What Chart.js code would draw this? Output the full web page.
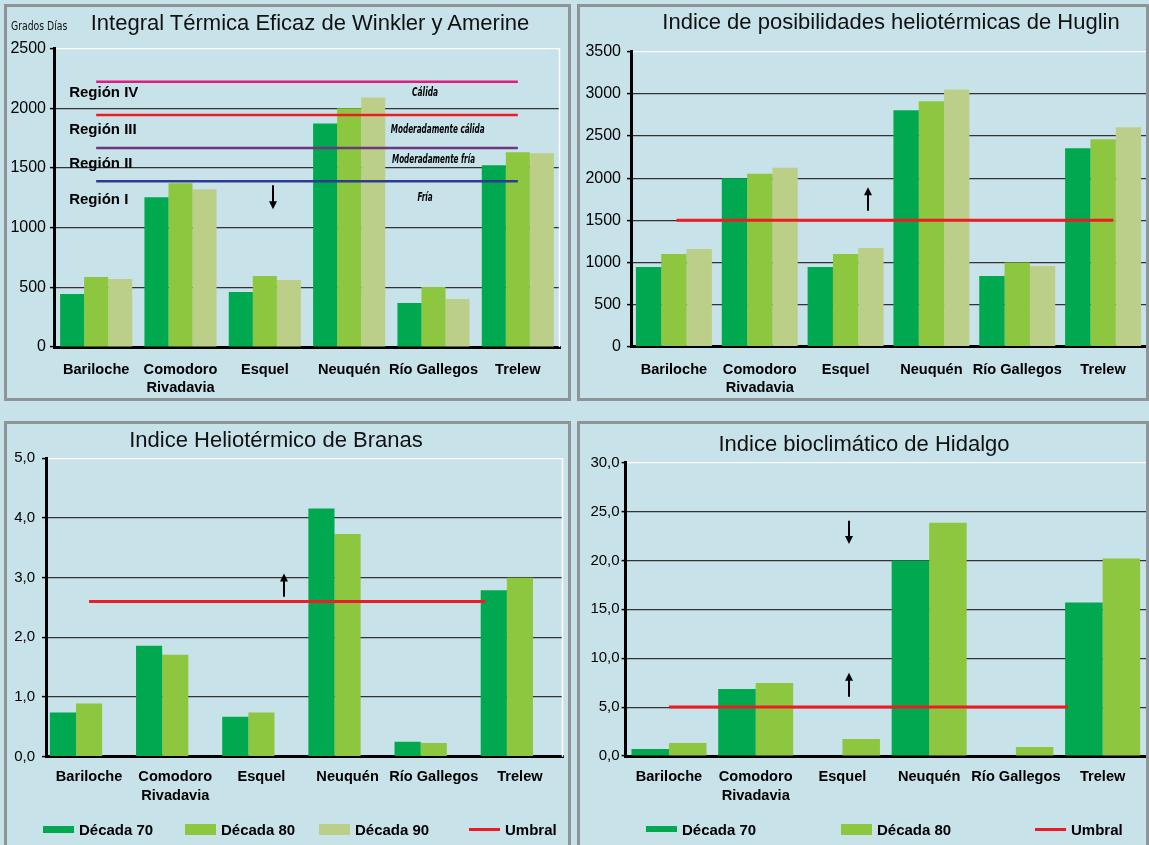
<!DOCTYPE html>
<html lang="es">
<head>
<meta charset="utf-8">
<title>Índices bioclimáticos - Patagonia</title>
<script src="https://cdn.jsdelivr.net/npm/chart.js@4.4.1/dist/chart.umd.min.js"></script>
<style>
  html, body { margin: 0; padding: 0; width: 1149px; height: 845px; overflow: hidden; background: #c8e2ea; }
  body { position: relative; font-family: "Liberation Sans", Arial, sans-serif; color: #111; }
  .panel { position: absolute; box-sizing: border-box; border: 3px solid #8f9497; background: #c8e2ea; }
  .panel canvas { position: absolute; left: 0; top: 0; }
  .title { position: absolute; width: 600px; text-align: center; font-size: 22px; line-height: 26px; white-space: nowrap; }
  .unit { position: absolute; font-family: "Liberation Sans Narrow", "DejaVu Sans Condensed", sans-serif; font-size: 12px; line-height: 14px; transform: scaleX(0.86); transform-origin: left top; white-space: nowrap; }
  .lg { position: absolute; top: 395px; height: 20px; display: flex; align-items: center; font-weight: bold; font-size: 15px; white-space: nowrap; color: #000; }
  .lg .key { display: inline-block; width: 31px; margin-right: 5px; }
</style>
</head>
<body>

<div class="panel" id="p1" style="left:4px; top:4px; width:567px; height:397px;">
  <canvas id="c1" width="561" height="391"></canvas>
  <div class="title" style="left:3px; top:3px;">Integral Térmica Eficaz de Winkler y Amerine</div>
  <div class="unit" style="left:4px; top:12px;">Grados Días</div>
</div>

<div class="panel" id="p2" style="left:577px; top:4px; width:572px; height:397px;">
  <canvas id="c2" width="566" height="391"></canvas>
  <div class="title" style="left:11px; top:2px;">Indice de posibilidades heliotérmicas de Huglin</div>
</div>

<div class="panel" id="p3" style="left:4px; top:421px; width:567px; height:450px;">
  <canvas id="c3" width="561" height="421"></canvas>
  <div class="title" style="left:-31px; top:3px;">Indice Heliotérmico de Branas</div>
</div>

<div class="panel" id="p4" style="left:577px; top:421px; width:572px; height:450px;">
  <canvas id="c4" width="566" height="421"></canvas>
  <div class="title" style="left:-16px; top:7px;">Indice bioclimático de Hidalgo</div>
</div>

<script>
// categorías (localidades)
const categories = ["Bariloche", ["Comodoro", "Rivadavia"], "Esquel", "Neuquén", "Río Gallegos", "Trelew"];
const seriesNames = ["Década 70", "Década 80", "Década 90"];
const umbralName = "Umbral";

// Integral térmica eficaz de Winkler y Amerine (grados día)
const winklerD70 = [444, 1254, 461, 1871, 368, 1522];
const winklerD80 = [587, 1371, 595, 2000, 503, 1631];
const winklerD90 = [570, 1321, 562, 2090, 402, 1623];
const winklerLimits = [2222, 1944, 1667, 1389];
const winklerRegions = ["Región IV", "Región III", "Región II", "Región I"];
const winklerClasses = ["Cálida", "Moderadamente cálida", "Moderadamente fría", "Fría"];
const winklerTicks = [0, 500, 1000, 1500, 2000, 2500];

// Índice heliotérmico de Huglin
const huglinD70 = [945, 2000, 945, 2804, 838, 2354];
const huglinD80 = [1099, 2051, 1099, 2911, 1000, 2461];
const huglinD90 = [1158, 2122, 1170, 3051, 957, 2603];
const huglinUmbral = 1500;
const huglinTicks = [0, 500, 1000, 1500, 2000, 2500, 3000, 3500];

// Índice heliotérmico de Branas
const branasD70 = [0.74, 1.86, 0.67, 4.16, 0.25, 2.79];
const branasD80 = [0.89, 1.71, 0.74, 3.73, 0.23, 3.0];
const branasD90 = [null, null, null, null, null, null];
const branasUmbral = 2.6;
const branasTicks = [0, 1, 2, 3, 4, 5];

// Índice bioclimático de Hidalgo
const hidalgoD70 = [0.72, 6.86, null, 20.0, null, 15.7];
const hidalgoD80 = [1.33, 7.47, 1.74, 23.85, 0.92, 20.2];
const hidalgoUmbral = 5.0;
const hidalgoTicks = [0, 5, 10, 15, 20, 25, 30];

const FONT = "'Liberation Sans', Arial, sans-serif";
const NARROW = "'Liberation Sans Narrow', 'DejaVu Sans Condensed', sans-serif";
const BAR_COLORS = ["#00a84f", "#8dc63f", "#bccf88"];
const RED = "#ed1c24";

// white frame line on the right of the plot
const frame = {
  id: "frame",
  beforeDatasetsDraw(chart, args, opts) {
    if (!opts.right) return;
    const { ctx, chartArea: a } = chart;
    ctx.save();
    ctx.strokeStyle = "#fff";
    ctx.lineWidth = 1.5;
    ctx.beginPath();
    ctx.moveTo(a.right - 0.5, a.top);
    ctx.lineTo(a.right - 0.5, a.bottom);
    ctx.stroke();
    ctx.restore();
  }
};

// threshold lines, arrows and text notes, placed with the chart scales
const guides = {
  id: "guides",
  afterDatasetsDraw(chart, args, opts) {
    const { ctx, scales: { x, y } } = chart;
    ctx.save();
    (opts.lines || []).forEach(l => {
      const py = y.getPixelForValue(l.y);
      ctx.strokeStyle = l.color;
      ctx.lineWidth = l.width;
      ctx.beginPath();
      ctx.moveTo(x.getPixelForValue(l.from), py);
      ctx.lineTo(x.getPixelForValue(l.to), py);
      ctx.stroke();
    });
    (opts.arrows || []).forEach(a => {
      const px = Math.round(x.getPixelForValue(a.x));
      const tail = y.getPixelForValue(a.from);
      const tip = y.getPixelForValue(a.to);
      const dir = tip > tail ? 1 : -1;
      ctx.strokeStyle = "#000";
      ctx.fillStyle = "#000";
      ctx.lineWidth = 2;
      ctx.beginPath();
      ctx.moveTo(px, tail);
      ctx.lineTo(px, tip - dir * 6);
      ctx.stroke();
      ctx.beginPath();
      ctx.moveTo(px, tip);
      ctx.lineTo(px - 4, tip - dir * 8);
      ctx.lineTo(px + 4, tip - dir * 8);
      ctx.closePath();
      ctx.fill();
    });
    (opts.notes || []).forEach(n => {
      ctx.font = n.font;
      ctx.fillStyle = "#000";
      ctx.textAlign = n.align;
      ctx.textBaseline = "middle";
      ctx.fillText(n.text, x.getPixelForValue(n.x), y.getPixelForValue(n.y), n.maxWidth);
    });
    ctx.restore();
  }
};

function bars(series, catPct) {
  return series.map((d, i) => ({
    label: seriesNames[i], data: d, backgroundColor: BAR_COLORS[i],
    borderWidth: 0, categoryPercentage: catPct, barPercentage: 1
  }));
}

const intFmt = v => String(v);
const decFmt = v => v.toFixed(1).replace(".", ",");

function build(id, o) {
  const max = o.ticks[o.ticks.length - 1];
  return new Chart(document.getElementById(id), {
    type: "bar",
    data: { labels: categories, datasets: o.datasets },
    options: {
      responsive: false,
      animation: false,
      layout: { padding: { top: o.top, left: 0, right: o.right, bottom: 0 } },
      plugins: {
        legend: { display: false }, tooltip: { enabled: false },
        guides: o.guides, frame: { right: o.right > 0 }
      },
      scales: {
        x: {
          grid: { display: false, drawTicks: false },
          border: { color: "#000", width: 3 },
          ticks: {
            color: "#000", padding: o.labelPad, maxRotation: 0, autoSkip: false,
            font: { family: FONT, size: 14.6, weight: "bold", lineHeight: o.labelLH }
          },
          afterFit: s => { s.height = o.xHeight; }
        },
        y: {
          min: 0, max,
          afterBuildTicks: s => { s.ticks = o.ticks.map(v => ({ value: v })); },
          ticks: { color: "#000", padding: o.tickPad, font: { family: FONT, size: o.tickSize }, callback: o.fmt },
          grid: {
            color: c => (c.tick && c.tick.value === max ? "#fff" : "#333"),
            lineWidth: 1.2, tickLength: 4, tickColor: "#000", tickWidth: 1.5
          },
          border: { color: "#000", width: 3 },
          afterFit: s => { s.width = o.yWidth; }
        }
      }
    },
    plugins: [frame, guides]
  });
}

function htmlLegend(panelId, items, lefts, keyHeights) {
  const panel = document.getElementById(panelId);
  items.forEach((it, i) => {
    const item = document.createElement("div");
    item.className = "lg";
    item.style.left = lefts[i] + "px";
    const key = document.createElement("span");
    key.className = "key";
    key.style.height = keyHeights[i] + "px";
    key.style.background = it.color;
    item.appendChild(key);
    item.appendChild(document.createTextNode(it.label));
    panel.appendChild(item);
  });
}

// 1. Winkler y Amerine
const winklerColors = ["#e5197e", RED, "#6e3580", "#2f3b92"];
const regionY = [2127, 1822, 1534, 1229];
const classX = [3.9, 4.05, 4.0, 3.9];
const classY = [2127, 1822, 1568, 1246];
const classWidth = [26, 94, 83, 15];
build("c1", {
  datasets: bars([winklerD70, winklerD80, winklerD90], 0.855),
  ticks: winklerTicks, fmt: intFmt, tickSize: 16,
  top: 41.5, right: 8, yWidth: 47, xHeight: 51, labelPad: 14, labelLH: 1.25, tickPad: 4,
  guides: {
    lines: winklerLimits.map((v, i) => ({ y: v, from: 0, to: 5, color: winklerColors[i], width: 2.5 })),
    arrows: [{ x: 2.1, from: 1354, to: 1153 }],
    notes: [
      ...winklerRegions.map((t, i) => ({ text: t, x: -0.32, y: regionY[i], align: "left", font: "bold 15px " + FONT })),
      ...winklerClasses.map((t, i) => ({
        text: t, x: classX[i], y: classY[i], align: "center",
        font: "italic bold 12.5px " + NARROW, maxWidth: classWidth[i]
      }))
    ]
  }
});

// 2. Huglin
build("c2", {
  datasets: bars([huglinD70, huglinD80, huglinD90], 0.885),
  ticks: huglinTicks, fmt: intFmt, tickSize: 16,
  top: 44.7, right: 0, yWidth: 51, xHeight: 51.3, labelPad: 14, labelLH: 1.25, tickPad: 6,
  guides: {
    lines: [{ y: huglinUmbral, from: 0.03, to: 5.12, color: RED, width: 3 }],
    arrows: [{ x: 2.26, from: 1613, to: 1891 }]
  }
});

// 3. Branas
build("c3", {
  datasets: bars([branasD70, branasD80, branasD90], 0.91),
  ticks: branasTicks, fmt: decFmt, tickSize: 15,
  top: 34.3, right: 5, yWidth: 39, xHeight: 88.3, labelPad: 10.6, labelLH: 1.32, tickPad: 7,
  guides: {
    lines: [{ y: branasUmbral, from: 0, to: 4.6, color: RED, width: 3 }],
    arrows: [{ x: 2.26, from: 2.68, to: 3.07 }]
  }
});
htmlLegend("p3", [
  { label: seriesNames[0], color: BAR_COLORS[0] },
  { label: seriesNames[1], color: BAR_COLORS[1] },
  { label: seriesNames[2], color: BAR_COLORS[2] },
  { label: umbralName, color: RED }
], [36, 178, 312, 462], [7, 11, 11, 3]);

// 4. Hidalgo
build("c4", {
  datasets: bars([hidalgoD70, hidalgoD80], 0.865),
  ticks: hidalgoTicks, fmt: decFmt, tickSize: 15,
  top: 38.7, right: 0, yWidth: 45.6, xHeight: 89, labelPad: 11, labelLH: 1.3, tickPad: 2,
  guides: {
    lines: [{ y: hidalgoUmbral, from: 0, to: 4.6, color: RED, width: 3 }],
    arrows: [{ x: 2.07, from: 24.07, to: 21.68 }, { x: 2.07, from: 6.07, to: 8.52 }]
  }
});
htmlLegend("p4", [
  { label: seriesNames[0], color: BAR_COLORS[0] },
  { label: seriesNames[1], color: BAR_COLORS[1] },
  { label: umbralName, color: RED }
], [66, 261, 455], [6, 11, 3]);
</script>
</body>
</html>
